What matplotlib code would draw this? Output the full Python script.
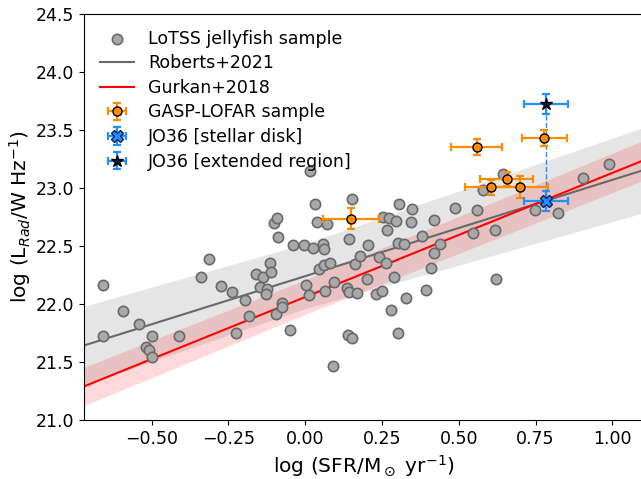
import numpy as np
import matplotlib
matplotlib.use("Agg")
import matplotlib.pyplot as plt

# ---------------- data ----------------
lotss_sfr = [-0.658, -0.659, -0.593, -0.540, -0.499, -0.519, -0.509, -0.498, -0.412,
             -0.339, -0.314, -0.274, -0.238, -0.225, -0.196, -0.183, -0.161, -0.137,
             -0.148, -0.124, -0.128, -0.113, -0.110, -0.101, -0.093, -0.089, -0.094,
             -0.075, -0.074, -0.048, -0.039, -0.004, 0.026, 0.058, 0.061, 0.015, 0.031,
             0.037, 0.070, 0.004, 0.012, 0.045, 0.062, 0.080, 0.064, 0.093, 0.091,
             0.137, 0.143, 0.170, 0.140, 0.151, 0.143, 0.154, 0.162, 0.180, 0.200,
             0.206, 0.230, 0.249, 0.241, 0.262, 0.252, 0.272, 0.295, 0.265, 0.304,
             0.289, 0.281, 0.301, 0.303, 0.321, 0.328, 0.347, 0.344, 0.379, 0.395,
             0.411, 0.419, 0.419, 0.439, 0.487, 0.558, 0.547, 0.580, 0.623, 0.619,
             0.643, 0.748, 0.824, 0.904, 0.990]
lotss_lrad = [22.164, 21.724, 21.936, 21.825, 21.721, 21.632, 21.602, 21.547, 21.721,
              22.230, 22.385, 22.155, 22.105, 21.746, 22.034, 21.897, 22.256, 22.236,
              22.150, 22.126, 22.085, 22.357, 22.276, 22.695, 22.745, 22.578, 21.911,
              22.012, 21.978, 21.772, 22.506, 22.506, 22.486, 22.514, 22.477, 23.150,
              22.862, 22.706, 22.692, 22.164, 22.075, 22.300, 22.337, 22.351, 22.113,
              22.190, 21.469, 22.141, 22.103, 22.098, 21.737, 21.709, 22.558, 22.908,
              22.343, 22.415, 22.213, 22.506, 22.084, 22.112, 22.401, 22.351, 22.753,
              22.741, 22.715, 22.635, 22.862, 22.233, 21.948, 21.752, 22.529, 22.514,
              22.055, 22.818, 22.710, 22.587, 22.119, 22.314, 22.437, 22.724, 22.514,
              22.830, 22.812, 22.616, 22.979, 22.213, 22.636, 23.120, 22.812, 22.785,
              23.085, 23.210]

gasp_sfr = [0.149, 0.558, 0.778, 0.656, 0.604, 0.700]
gasp_lrad = [22.735, 23.356, 23.428, 23.075, 23.006, 23.011]
gasp_sfr_err = [0.090, 0.084, 0.073, 0.087, 0.085, 0.090]
gasp_lrad_err = [0.090, 0.068, 0.070, 0.061, 0.065, 0.095]

jo36_sfr = [0.784]
jo36_disk_lrad = [22.891]
jo36_ext_lrad = [23.724]
jo36_sfr_err = [0.072]
jo36_disk_err = [0.085]
jo36_ext_err = [0.090]

# relations: log L = a + b * log SFR, band from parameter uncertainties
roberts_a, roberts_b = 22.24, 0.83
roberts_da, roberts_db = 0.28, 0.08
gurkan_a, gurkan_b = 22.06, 1.07
gurkan_da, gurkan_db = 0.15, 0.02

xlim = (-0.72, 1.10)
ylim = (21.0, 24.5)
xticks = [-0.50, -0.25, 0.00, 0.25, 0.50, 0.75, 1.00]
yticks = [21.0, 21.5, 22.0, 22.5, 23.0, 23.5, 24.0, 24.5]

# ---------------- figure ----------------
fig = plt.figure(figsize=(6.41, 4.79), dpi=100)
ax = fig.add_axes([84 / 641, 1 - 420 / 479, (643 - 84) / 641, (420 - 14) / 479])

xx = np.linspace(xlim[0], xlim[1], 200)

def band(a, b, da, db):
    combos = np.array([(a + sa * da) + (b + sb * db) * xx
                       for sa in (-1, 1) for sb in (-1, 1)])
    return combos.min(axis=0), combos.max(axis=0)

lo, hi = band(roberts_a, roberts_b, roberts_da, roberts_db)
ax.fill_between(xx, lo, hi, color='gray', alpha=0.2, lw=0, zorder=1)
lo, hi = band(gurkan_a, gurkan_b, gurkan_da, gurkan_db)
ax.fill_between(xx, lo, hi, color='red', alpha=0.15, lw=0, zorder=1)

sc = ax.scatter(lotss_sfr, lotss_lrad, s=55, c='darkgray', edgecolors='dimgray',
                linewidths=1.2, zorder=3, label='LoTSS jellyfish sample')

l1, = ax.plot(xx, roberts_a + roberts_b * xx, color='dimgray', lw=1.5, zorder=2,
              label='Roberts+2021')
l2, = ax.plot(xx, gurkan_a + gurkan_b * xx, color='red', lw=1.5, zorder=2,
              label='Gurkan+2018')

ax.plot([jo36_sfr[0], jo36_sfr[0]], [jo36_disk_lrad[0], jo36_ext_lrad[0]], ls='--',
        color='dodgerblue', lw=1.0, zorder=4)

e1 = ax.errorbar(gasp_sfr, gasp_lrad, xerr=gasp_sfr_err, yerr=gasp_lrad_err, fmt='o',
                 color='darkorange', mfc='darkorange', mec='k', ms=6.5, elinewidth=1.6,
                 capsize=3, capthick=1.6, zorder=5, label='GASP-LOFAR sample')
e2 = ax.errorbar(jo36_sfr, jo36_disk_lrad, xerr=jo36_sfr_err, yerr=jo36_disk_err, fmt='X',
                 color='dodgerblue', mfc='dodgerblue', mec='#102060', ms=9, elinewidth=1.6,
                 capsize=3, capthick=1.6, zorder=6, label='JO36 [stellar disk]')
e3 = ax.errorbar(jo36_sfr, jo36_ext_lrad, xerr=jo36_sfr_err, yerr=jo36_ext_err, fmt='*',
                 color='dodgerblue', mfc='#101838', mec='k', ms=9, elinewidth=1.6,
                 capsize=3, capthick=1.6, zorder=6, label='JO36 [extended region]')

ax.set_xlim(*xlim)
ax.set_ylim(*ylim)
ax.set_xticks(xticks)
ax.set_yticks(yticks)
ax.tick_params(labelsize=12.5)
ax.set_xlabel(r'log (SFR/M$_\odot$ yr$^{-1}$)', fontsize=14.5)
ax.set_ylabel(r'log (L$_{Rad}$/W Hz$^{-1}$)', fontsize=14.5, labelpad=2)

ax.legend(handles=[sc, l1, l2, e1, e2, e3], loc='upper left', frameon=False,
          fontsize=12.5, labelspacing=0.38, handlelength=2.0)

fig.savefig('out.png', dpi=100)
